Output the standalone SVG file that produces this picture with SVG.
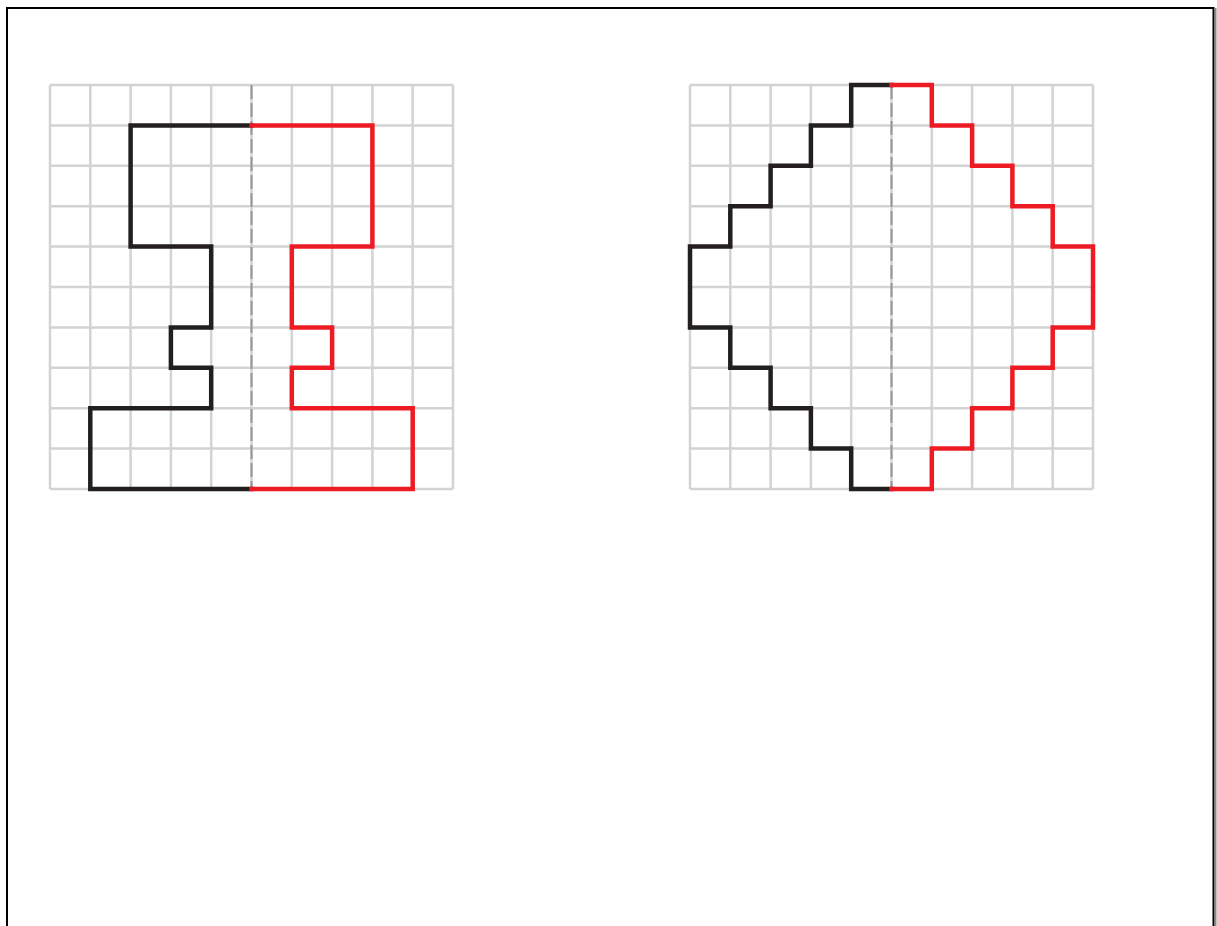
<svg xmlns="http://www.w3.org/2000/svg" width="1217" height="926" viewBox="0 0 1217 926">
<style>
.grid{fill:none;stroke:#d1d3d4;stroke-width:2.5}
.axis{fill:none;stroke:#939598;stroke-width:2;stroke-dasharray:14 4}
.blk{fill:none;stroke:#231f20;stroke-width:4.5;stroke-linejoin:miter;stroke-linecap:square}
.red{fill:none;stroke:#ed1c24;stroke-width:4.5;stroke-linejoin:miter;stroke-linecap:square}
</style>
<defs>
<path id="g" class="grid" d="M0 0H403M0 40.4H403M0 80.8H403M0 121.2H403M0 161.6H403M0 202H403M0 242.4H403M0 282.8H403M0 323.2H403M0 363.6H403M0 404H403M0 0V404M40.3 0V404M80.6 0V404M120.9 0V404M161.2 0V404M201.5 0V404M241.8 0V404M282.1 0V404M322.4 0V404M362.7 0V404M403 0V404"/>
</defs>
<rect x="1215" y="8" width="1.5" height="930" fill="#888"/>
<rect x="7" y="8" width="1206.5" height="930" fill="none" stroke="#000" stroke-width="2"/>
<g id="left-figure" transform="translate(50,85)">
<use href="#g"/>
<path class="axis" d="M201.5 0V404"/>
<path class="blk" d="M201.5 40.4H80.6V161.6H161.2V242.4H120.9V282.8H161.2V323.2H40.3V404H201.5"/>
<path class="red" d="M201.5 40.4H322.4V161.6H241.8V242.4H282.1V282.8H241.8V323.2H362.7V404H201.5"/>
</g>
<g id="right-figure" transform="translate(690,85)">
<use href="#g"/>
<path class="axis" d="M201.5 0V404"/>
<path class="blk" d="M201.5 0H161.2V40.4H120.9V80.8H80.6V121.2H40.3V161.6H0V242.4H40.3V282.8H80.6V323.2H120.9V363.6H161.2V404H201.5"/>
<path class="red" d="M201.5 0H241.8V40.4H282.1V80.8H322.4V121.2H362.7V161.6H403V242.4H362.7V282.8H322.4V323.2H282.1V363.6H241.8V404H201.5"/>
</g>
</svg>
